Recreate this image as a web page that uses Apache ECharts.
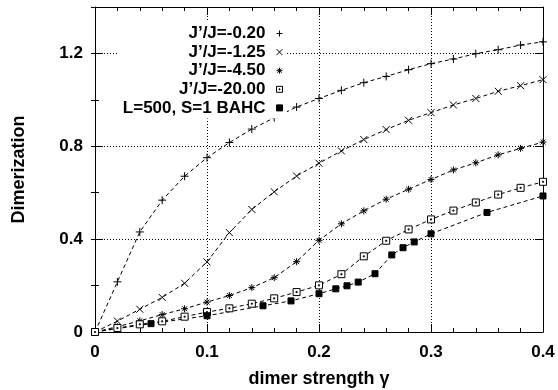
<!DOCTYPE html>
<html>
<head>
<meta charset="utf-8">
<script src="https://cdn.jsdelivr.net/npm/echarts@6/dist/echarts.min.js"></script>
<style>
  html, body { margin: 0; padding: 0; background: #fff; }
  #chart { width: 558px; height: 390px; }
</style>
</head>
<body>
<div id="chart"></div>
<script>
// Dimer strength grid shared by the four J'/J curves
const gamma = [0, 0.02, 0.04, 0.06, 0.08, 0.10, 0.12, 0.14, 0.16, 0.18, 0.20,
               0.22, 0.24, 0.26, 0.28, 0.30, 0.32, 0.34, 0.36, 0.38, 0.40];

// Dimerization for each coupling ratio
const dimJ020  = [0, 0.216, 0.431, 0.568, 0.671, 0.751, 0.816, 0.874, 0.923, 0.969, 1.006,
                  1.041, 1.074, 1.101, 1.130, 1.156, 1.176, 1.199, 1.216, 1.236, 1.250];
const dimJ125  = [0, 0.047, 0.098, 0.149, 0.210, 0.302, 0.428, 0.528, 0.604, 0.672, 0.727,
                  0.780, 0.829, 0.872, 0.912, 0.945, 0.978, 1.006, 1.037, 1.061, 1.087];
const dimJ450  = [0, 0.023, 0.048, 0.075, 0.100, 0.129, 0.157, 0.191, 0.234, 0.303, 0.395,
                  0.466, 0.522, 0.572, 0.615, 0.657, 0.698, 0.729, 0.763, 0.791, 0.818];
const dimJ2000 = [0, 0.017, 0.033, 0.046, 0.066, 0.086, 0.102, 0.122, 0.145, 0.172, 0.201,
                  0.249, 0.326, 0.393, 0.442, 0.485, 0.523, 0.558, 0.592, 0.621, 0.647];

// BAHC results (L=500, S=1) on their own gamma values
const bahcGamma = [0, 0.05, 0.10, 0.15, 0.175, 0.20, 0.215, 0.225, 0.235, 0.25,
                   0.265, 0.275, 0.285, 0.30, 0.35, 0.40];
const bahcDim   = [0, 0.036, 0.070, 0.113, 0.134, 0.165, 0.186, 0.199, 0.215, 0.251,
                   0.332, 0.363, 0.388, 0.423, 0.515, 0.586];

const seriesNames = ['J\u2019/J=-0.20', 'J\u2019/J=-1.25', 'J\u2019/J=-4.50', 'J\u2019/J=-20.00', 'L=500, S=1 BAHC'];

// Point markers in gnuplot style
const SYM_PLUS   = 'path://M0,5L10,5M5,0L5,10';
const SYM_CROSS  = 'path://M0,0L10,10M10,0L0,10';
const SYM_STAR   = 'path://M0,5L10,5M5,0L5,10M1.5,1.5L8.5,8.5M8.5,1.5L1.5,8.5';
const SYM_BOXDOT = 'path://M0,0L10,0L10,10L0,10ZM4.2,4.2L5.8,4.2L5.8,5.8L4.2,5.8Z';
const SYM_BOX    = 'path://M0,0L10,0L10,10L0,10Z';

const FONT = '"Liberation Sans", Arial, Helvetica, sans-serif';

function pairs(xs, ys) { return xs.map((x, i) => [x, ys[i]]); }

function curve(name, data, symbol, size, fill) {
  return {
    name: name,
    type: 'line',
    data: data,
    symbol: symbol,
    symbolSize: size,
    symbolKeepAspect: true,
    showSymbol: true,
    lineStyle: { color: '#000', width: 1, type: [4, 3] },
    itemStyle: { color: fill, borderColor: '#000', borderWidth: 1 },
    emphasis: { disabled: true },
    animation: false
  };
}

const bahcData = pairs(bahcGamma, bahcDim).map((p, i) => i === 0 ? { value: p, symbol: 'none' } : p);

const tickStyle = { color: '#000', width: 1 };
const axisLineStyle = { show: true, onZero: false, lineStyle: { color: '#000', width: 1 } };
const labelStyle = { color: '#000', fontSize: 17, fontWeight: 'bold', fontFamily: FONT };
const nameStyle = { color: '#000', fontSize: 18, fontWeight: 'bold', fontFamily: FONT };

const option = {
  backgroundColor: '#fff',
  animation: false,
  grid: { left: 95, right: 15, top: 7, bottom: 58, containLabel: false, outerBoundsMode: 'none' },
  legend: {
    orient: 'vertical',
    align: 'right',
    right: 271,
    top: 21,
    padding: [4, 4, 2, 4],
    backgroundColor: '#fff',
    itemWidth: 18,
    itemHeight: 6,
    itemGap: 1.6,
    selectedMode: false,
    textStyle: { color: '#000', fontSize: 17, fontWeight: 'bold', fontFamily: FONT, lineHeight: 17 },
    itemStyle: { borderWidth: 1 },
    data: [
      { name: seriesNames[0], icon: SYM_PLUS },
      { name: seriesNames[1], icon: SYM_CROSS },
      { name: seriesNames[2], icon: SYM_STAR },
      { name: seriesNames[3], icon: SYM_BOXDOT },
      { name: seriesNames[4], icon: SYM_BOX }
    ]
  },
  xAxis: [
    {
      type: 'value', min: 0, max: 0.4, interval: 0.1, position: 'bottom',
      axisLine: axisLineStyle,
      axisTick: { show: true, inside: true, length: 8, lineStyle: tickStyle },
      minorTick: { show: true, splitNumber: 5, length: 4, lineStyle: tickStyle },
      axisLabel: Object.assign({ margin: 12 }, labelStyle),
      splitLine: { show: true, lineStyle: { color: '#000', width: 1, type: [1, 2] } },
      name: 'dimer strength \u03b3',
      nameLocation: 'middle',
      nameGap: 38,
      nameTextStyle: nameStyle
    },
    {
      type: 'value', min: 0, max: 0.4, interval: 0.1, position: 'top',
      axisLine: axisLineStyle,
      axisTick: { show: true, inside: true, length: 8, lineStyle: tickStyle },
      minorTick: { show: true, splitNumber: 5, length: 4, lineStyle: tickStyle },
      axisLabel: { show: false },
      splitLine: { show: false }
    }
  ],
  yAxis: [
    {
      type: 'value', min: 0, max: 1.4, interval: 0.4, position: 'left',
      axisLine: axisLineStyle,
      axisTick: { show: true, inside: true, length: 8, lineStyle: tickStyle },
      axisLabel: Object.assign({
        margin: 12,
        formatter: v => (Math.abs(v - 1.4) < 1e-9 ? '' : String(+v.toFixed(1)))
      }, labelStyle),
      splitLine: { show: true, lineStyle: { color: '#000', width: 1, type: [1, 2] } },
      name: 'Dimerization',
      nameLocation: 'middle',
      nameGap: 67,
      nameRotate: 90,
      nameTextStyle: nameStyle
    },
    {
      // minor ticks every 0.2 on the left edge
      type: 'value', min: 0, max: 1.4, interval: 0.2, position: 'left',
      axisLine: { show: false },
      axisTick: { show: true, inside: true, length: 4, lineStyle: tickStyle },
      axisLabel: { show: false },
      splitLine: { show: false }
    },
    {
      type: 'value', min: 0, max: 1.4, interval: 0.4, position: 'right',
      axisLine: axisLineStyle,
      axisTick: { show: true, inside: true, length: 8, lineStyle: tickStyle },
      axisLabel: { show: false },
      splitLine: { show: false }
    },
    {
      // minor ticks every 0.2 on the right edge
      type: 'value', min: 0, max: 1.4, interval: 0.2, position: 'right',
      axisLine: { show: false },
      axisTick: { show: true, inside: true, length: 4, lineStyle: tickStyle },
      axisLabel: { show: false },
      splitLine: { show: false }
    }
  ],
  series: [
    curve(seriesNames[0], pairs(gamma, dimJ020), SYM_PLUS, 8, '#000'),
    curve(seriesNames[1], pairs(gamma, dimJ125), SYM_CROSS, 7, '#000'),
    curve(seriesNames[2], pairs(gamma, dimJ450), SYM_STAR, 7, '#000'),
    curve(seriesNames[3], pairs(gamma, dimJ2000), SYM_BOXDOT, 7, '#fff'),
    curve(seriesNames[4], bahcData, SYM_BOX, 6, '#000')
  ]
};

const chart = echarts.init(document.getElementById('chart'), null, { renderer: 'canvas' });
chart.setOption(option);
</script>
</body>
</html>
